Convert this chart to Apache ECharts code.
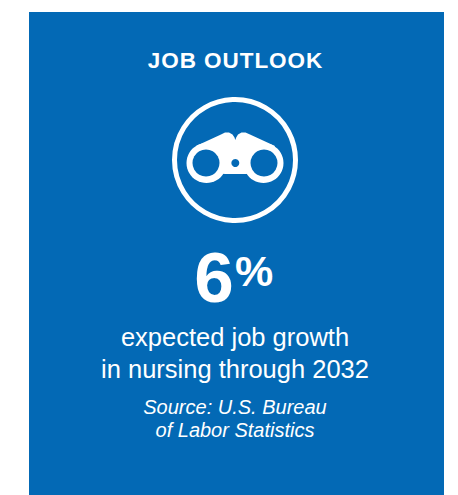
<!DOCTYPE html>
<html><head><meta charset="utf-8">
<style>html,body{margin:0;padding:0;background:#fff}#c{width:458px;height:495px}
text[style*="22.5px"]{letter-spacing:0.95px}</style>
<script src="https://cdn.jsdelivr.net/npm/echarts@6/dist/echarts.min.js"></script>
</head><body><div id="c"></div>
<script>
const heading = "JOB OUTLOOK";
const statValue = "6";
const statUnit = "%";
const descriptionLines = ["expected job growth", "in nursing through 2032"];
const sourceLines = ["Source: U.S. Bureau", "of Labor Statistics"];
const BLUE = "#0369b5", F = '"Liberation Sans", Arial, sans-serif';
const chart = echarts.init(document.getElementById('c'), null, {renderer:'svg'});
function t(x,y,text,fontSize,fontWeight,fontStyle){
  return {type:'text',x,y,style:{text,fill:'#fff',fontSize,fontWeight:fontWeight||'normal',fontStyle:fontStyle||'normal',fontFamily:F,textAlign:'center',textVerticalAlign:'middle',align:'center',verticalAlign:'middle'}};
}
const lens=(cx,cy,r)=>({type:'circle',shape:{cx,cy,r},style:{fill:'#fff'}});
const hole=(cx,cy,r)=>({type:'circle',shape:{cx,cy,r},style:{fill:BLUE}});
chart.setOption({
  animation:false,
  graphic:{elements:[
    {type:'rect',shape:{x:29,y:12,width:415,height:483},style:{fill:BLUE}},
    t(235.5,60.5,heading,22.5,'bold'),
    {type:'circle',shape:{cx:235,cy:160,r:60.5},style:{fill:'none',stroke:'#fff',lineWidth:5}},
    lens(206.5,163,20),lens(263.5,163,20),
    {type:'polygon',shape:{points:[[196,146],[221,134.5],[225,132.5],[229,132.5],[232.5,134.5],[234.5,137.5],[235.3,140],[236.2,137.5],[238,134.5],[241.5,132.5],[245.5,132.5],[250,134.5],[275,146],[262,172],[246,174],[225,174],[208,172]]},style:{fill:'#fff'}},
    hole(206,163,13.5),hole(264,163,13.5),hole(235.3,163,4),
    t(214,277,statValue,71,'bold'),
    t(254,271,statUnit,43,'bold'),
    t(235,337,descriptionLines[0],25.5),
    t(235,369,descriptionLines[1],25.5),
    t(235,407,sourceLines[0],20,'normal','italic'),
    t(235,430,sourceLines[1],20,'normal','italic')
  ]}
});
</script></body></html>
